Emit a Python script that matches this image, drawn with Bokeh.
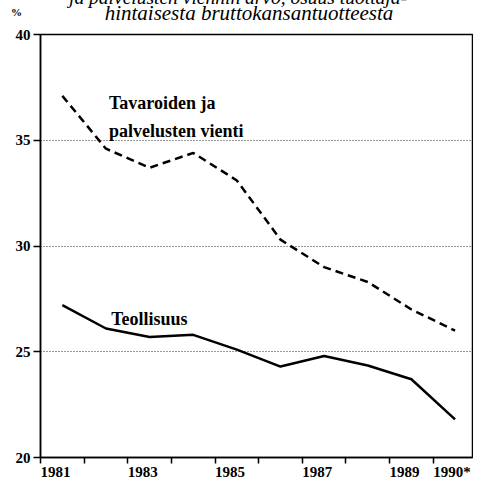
from bokeh.plotting import figure
from bokeh.models import FixedTicker, Label, ColumnDataSource, Div
from bokeh.layouts import column
from bokeh.transform import dodge
from bokeh.embed import file_html
from bokeh.resources import INLINE

years = [1981, 1982, 1983, 1984, 1985, 1986, 1987, 1988, 1989, 1990]
vienti = [37.1, 34.6, 33.7, 34.4, 33.1, 30.3, 29.0, 28.3, 27.0, 26.0]
teollisuus = [27.2, 26.1, 25.7, 25.8, 25.1, 24.3, 24.8, 24.35, 23.7, 21.8]
x_ticks = [1981, 1982, 1983, 1984, 1985, 1986, 1987, 1988, 1989, 1990]
x_tick_labels = ["1981", "", "1983", "", "1985", "", "1987", "", "1989", "1990*"]
y_ticks = [20, 25, 30, 35, 40]
title_lines = ["ja palvelusten viennin arvo, osuus tuottaja-",
               "hintaisesta bruttokansantuotteesta"]
series_labels = ["Tavaroiden ja", "palvelusten vienti", "Teollisuus"]
unit_label = "%"

FONT = "Liberation Serif"
W = 473
H_TOP = 26
H_MAIN = 456
NBSP = "\u00a0"

# ---- header strip: title lines (top line cut by the page edge) and unit sign ----
header_html = (
    f'<div style="position:relative;width:{W}px;height:{H_TOP}px;overflow:hidden;'
    f'font-family:\'{FONT}\';color:black;margin:0;padding:0;">'
    f'<div style="position:absolute;left:-12px;top:-12px;width:500px;text-align:center;'
    f'white-space:nowrap;font-style:italic;font-size:19.5px;line-height:19.5px;">{title_lines[0]}</div>'
    f'<div style="position:absolute;left:-1px;top:3px;width:500px;text-align:center;'
    f'white-space:nowrap;font-style:italic;font-size:21px;line-height:21px;">{title_lines[1]}</div>'
    f'<div style="position:absolute;left:11px;top:7px;font-weight:bold;font-size:11px;'
    f'line-height:11px;">{unit_label}</div>'
    '</div>'
)
header = Div(text=header_html, width=W, height=H_TOP, margin=0)

# ---- main chart ----
src = ColumnDataSource(dict(year=years, vienti=vienti, teollisuus=teollisuus))

p = figure(width=W, height=H_MAIN, x_range=(1981, 1990.9), y_range=(20, 40),
           output_backend="svg", toolbar_location=None,
           min_border_left=40, min_border_right=1, min_border_top=8,
           min_border_bottom=23)
p.title = None
p.background_fill_color = "white"
p.border_fill_color = "white"
p.outline_line_color = "black"
p.outline_line_width = 1.5

# tick labels sit to the right of their tick (left-aligned look)
def pad(lbl):
    return (NBSP * (2 * len(lbl)) + lbl) if lbl else ""

p.xaxis.ticker = FixedTicker(ticks=x_ticks)
p.xaxis.major_label_overrides = {t: pad(l) for t, l in zip(x_ticks, x_tick_labels)}
p.xaxis.major_tick_in = 0
p.xaxis.major_tick_out = 6
p.xaxis.minor_tick_line_color = None
p.xaxis.axis_line_width = 1.5
p.xaxis.major_tick_line_width = 1.5
p.xaxis.major_label_standoff = 0
p.xaxis.major_label_text_font = FONT
p.xaxis.major_label_text_font_style = "bold"
p.xaxis.major_label_text_font_size = "15px"
p.xaxis.major_label_text_color = "black"

p.yaxis.ticker = FixedTicker(ticks=y_ticks)
p.yaxis.major_tick_in = 0
p.yaxis.major_tick_out = 7
p.yaxis.minor_tick_line_color = None
p.yaxis.axis_line_width = 1.5
p.yaxis.major_tick_line_width = 1.5
p.yaxis.major_label_standoff = 3
p.yaxis.major_label_text_font = FONT
p.yaxis.major_label_text_font_style = "bold"
p.yaxis.major_label_text_font_size = "15px"
p.yaxis.major_label_text_color = "black"

p.xgrid.grid_line_color = None
p.ygrid.grid_line_color = "black"
p.ygrid.grid_line_dash = "1 2"
p.ygrid.grid_line_width = 1
p.ygrid.grid_line_alpha = 0.8

p.line(dodge("year", 0.5, range=p.x_range), "vienti", source=src,
       line_color="black", line_width=2.5, line_dash="8 5")
p.line(dodge("year", 0.5, range=p.x_range), "teollisuus", source=src,
       line_color="black", line_width=2.5)

lbl_style = dict(text_font=FONT, text_font_style="bold", text_font_size="18px",
                 text_color="black", text_baseline="alphabetic")
p.add_layout(Label(x=1982.57, y=36.74, text=series_labels[0], **lbl_style))
p.add_layout(Label(x=1982.57, y=35.46, text=series_labels[1], **lbl_style))
p.add_layout(Label(x=1982.62, y=26.55, text=series_labels[2], **lbl_style))

layout = column(header, p, spacing=0)
open("out.html", "w").write(file_html(layout, INLINE))
